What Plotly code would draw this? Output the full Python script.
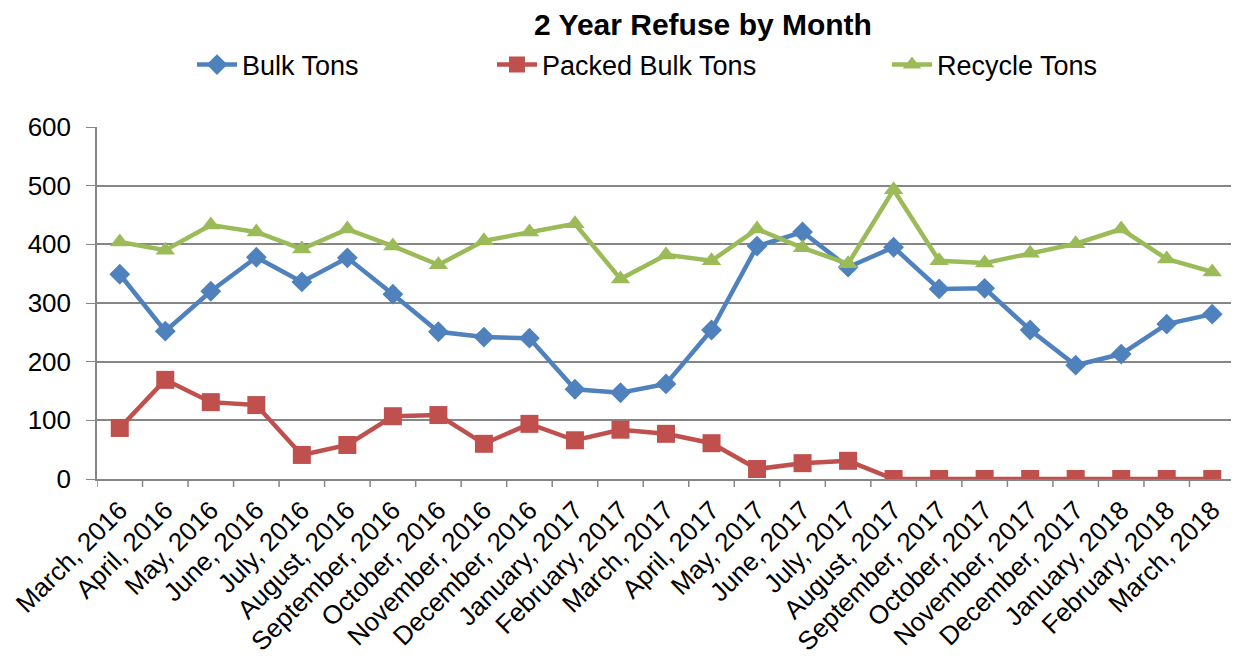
import plotly.graph_objects as go

months = ["March, 2016", "April, 2016", "May, 2016", "June, 2016", "July, 2016",
          "August, 2016", "September, 2016", "October, 2016", "November, 2016",
          "December, 2016", "January, 2017", "February, 2017", "March, 2017",
          "April, 2017", "May, 2017", "June, 2017", "July, 2017", "August, 2017",
          "September, 2017", "October, 2017", "November, 2017", "December, 2017",
          "January, 2018", "February, 2018", "March, 2018"]

bulk_tons = [349, 252, 320, 378, 336, 377, 315, 251, 242, 240, 153, 147, 162,
             254, 397, 421, 361, 395, 324, 325, 254, 194, 213, 264, 281]
packed_bulk_tons = [87, 169, 131, 126, 41, 58, 107, 109, 60, 94, 66, 84, 77,
                    61, 17, 27, 31, 0, 0, 0, 0, 0, 0, 0, 0]
recycle_tons = [404, 390, 433, 421, 392, 426, 397, 365, 406, 421, 435, 341, 382,
                372, 426, 394, 367, 493, 372, 368, 385, 401, 426, 375, 353]

y_ticks = [0, 100, 200, 300, 400, 500, 600]

FONT = "Liberation Sans, Arial, sans-serif"
OFF = 8  # page body margin
W, H = 1239 - OFF, 656 - OFF
L, T, R, B = 97 - OFF, 127 - OFF, 1235 - OFF, 479 - OFF  # plot area in figure px

fig = go.Figure()

series = [
    ("Bulk Tons", bulk_tons, "#4F81BD", "diamond", 16, "legend"),
    ("Packed Bulk Tons", packed_bulk_tons, "#C0504D", "square", 18, "legend2"),
    ("Recycle Tons", recycle_tons, "#9BBB59", "triangle-up", 17, "legend3"),
]
for name, vals, col, sym, sz, lg in series:
    fig.add_trace(go.Scatter(
        x=list(range(len(months))), y=vals, name=name, mode="lines+markers",
        line=dict(color=col, width=4.5),
        marker=dict(symbol=sym, size=sz, color=col),
        legend=lg,
    ))

def legend_at(px):
    return dict(x=(px - OFF - L) / (R - L), xanchor="left",
                y=1 + (127 - 65) / (B - T), yanchor="middle", orientation="h",
                bgcolor="rgba(0,0,0,0)",
                font=dict(family=FONT, size=27, color="#000"),
                itemwidth=40)

fig.update_layout(
    width=W, height=H,
    margin=dict(l=L, r=W - R, t=T, b=H - B, autoexpand=False),
    plot_bgcolor="white", paper_bgcolor="white",
    title=dict(text="<b>2 Year Refuse by Month</b>", x=(703 - OFF) / W, xref="container",
               xanchor="center", y=1 - (24 - OFF) / H, yref="container", yanchor="middle",
               font=dict(family=FONT, size=30, color="#000")),
    legend=legend_at(192),
    legend2=legend_at(492),
    legend3=legend_at(887),
    showlegend=True,
)
fig.update_xaxes(
    range=[-0.5, len(months) - 0.5],
    tickmode="array", tickvals=list(range(len(months))), ticktext=months,
    tickangle=-45, tickfont=dict(family=FONT, size=26, color="#000"),
    showgrid=False, showline=True, linecolor="#868686", linewidth=1.5,
    ticks="", zeroline=False, automargin=False, ticklabelstandoff=4,
)
# tick marks between categories (Excel style)
for i in range(len(months) + 1):
    fig.add_shape(type="line", xref="x", yref="paper",
                  x0=i - 0.5, x1=i - 0.5, y0=0, y1=-8 / (B - T),
                  line=dict(color="#868686", width=1.5))
fig.update_yaxes(
    range=[0, 600], tickvals=y_ticks,
    tickfont=dict(family=FONT, size=26, color="#000"),
    showgrid=True, gridcolor="#868686", gridwidth=1.5,
    showline=True, linecolor="#868686", linewidth=1.5,
    ticks="outside", ticklen=9, tickcolor="#868686", zeroline=False,
    automargin=False, ticklabelstandoff=10,
)

fig.write_html("out.html")
